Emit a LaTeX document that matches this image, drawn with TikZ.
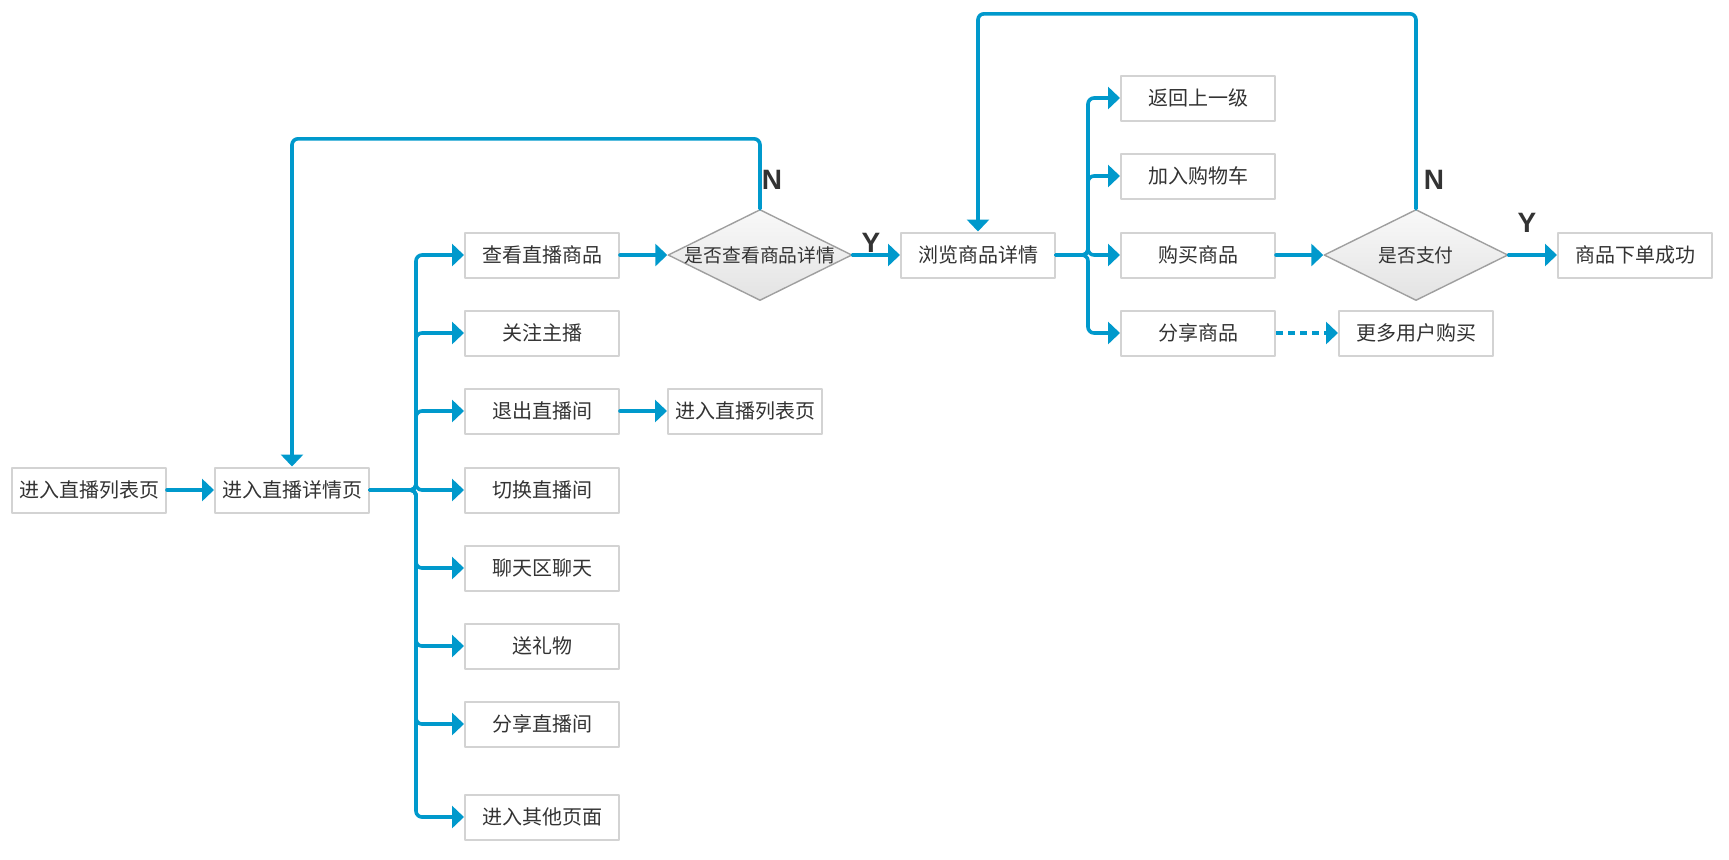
\documentclass[tikz,border=0pt]{standalone}
\usepackage{fontspec}
\setmainfont{Noto Sans CJK SC}
\newfontfamily\yesno{Liberation Sans}
\usepackage{tikz}
\usetikzlibrary{arrows.meta,shapes.geometric}
\definecolor{flowblue}{RGB}{0,153,204}
\definecolor{boxgray}{RGB}{211,211,211}
\definecolor{txtgray}{RGB}{51,51,51}

\begin{document}
\begin{tikzpicture}[line cap=round,line join=round,>={Triangle[length=6pt,width=11pt]},x=.5pt,y=-.5pt,
		page/.style={draw=boxgray,line width=1pt,fill=white,text=txtgray,minimum width=77pt,minimum height=22.5pt,inner sep=0pt,font=\fontsize{10pt}{12pt}\selectfont},
		ask/.style={diamond,draw=gray!75,line width=.7pt,top color=gray!5,bottom color=gray!22,text=txtgray,minimum width=92pt,minimum height=45.5pt,aspect=2,inner sep=-1pt,font=\fontsize{9.4pt}{11pt}\selectfont},
		flow/.style={->,color=flowblue,line width=1.8pt,rounded corners=3pt},
		yn/.style={text=txtgray,font=\yesno\bfseries\fontsize{14pt}{14pt}\selectfont}]
		\useasboundingbox (0,0) rectangle (1729,859);
		%live room
		\node[page] (list) at (89,490) {进入直播列表页};
		\node[page] (detail) at (292,490) {进入直播详情页};
		\node[page] (look) at (542,255) {查看直播商品};
		\node[page] (follow) at (542,333) {关注主播};
		\node[page] (quit) at (542,411) {退出直播间};
		\node[page] (change) at (542,490) {切换直播间};
		\node[page] (chat) at (542,568) {聊天区聊天};
		\node[page] (gift) at (542,646) {送礼物};
		\node[page] (share) at (542,724) {分享直播间};
		\node[page] (other) at (542,817) {进入其他页面};
		\node[page] (back) at (745,411) {进入直播列表页};
		\node[ask] (askgoods) at (760,255) {是否查看商品详情};
		%goods
		\node[page] (goods) at (978,255) {浏览商品详情};
		\node[page] (up) at (1198,98) {返回上一级};
		\node[page] (cart) at (1198,176) {加入购物车};
		\node[page] (buy) at (1198,255) {购买商品};
		\node[page] (sharegoods) at (1198,333) {分享商品};
		\node[ask] (askpay) at (1416,255) {是否支付};
		\node[page] (done) at (1635,255) {商品下单成功};
		\node[page] (more) at (1416,333) {更多用户购买};
		\coordinate (fork1) at (416,490);
		\coordinate (fork2) at (1088,255);
		
		\draw[flow] (list) -- (detail);
		\foreach \b in {look,follow,quit,change,chat,gift,share,other}
		\draw[flow] (detail.east) -- (fork1) |- (\b.west);
		\draw[flow] (look) -- (askgoods);
		\draw[flow] (quit) -- (back);
		\draw[flow] (askgoods) -- (goods);
		\draw[flow] (askgoods.north) -- ++(0,-70) -| (detail.north);
		\foreach \b in {up,cart,buy,sharegoods}
		\draw[flow] (goods.east) -- (fork2) |- (\b.west);
		\draw[flow] (buy) -- (askpay);
		\draw[flow] (askpay) -- (done);
		\draw[flow,line cap=butt,dash pattern=on 3.5pt off 2.5pt] (sharegoods) -- (more);
		\draw[flow] (askpay.north) -- ++(0,-195) -| (goods.north);
		%labels
		\node[yn] (n1) at (772,180) {N};
		\node[yn] (y1) at (871,243) {Y};
		\node[yn] (n2) at (1434,180) {N};
		\node[yn] (y2) at (1527,223) {Y};
		
		\end{tikzpicture}
\end{document}
